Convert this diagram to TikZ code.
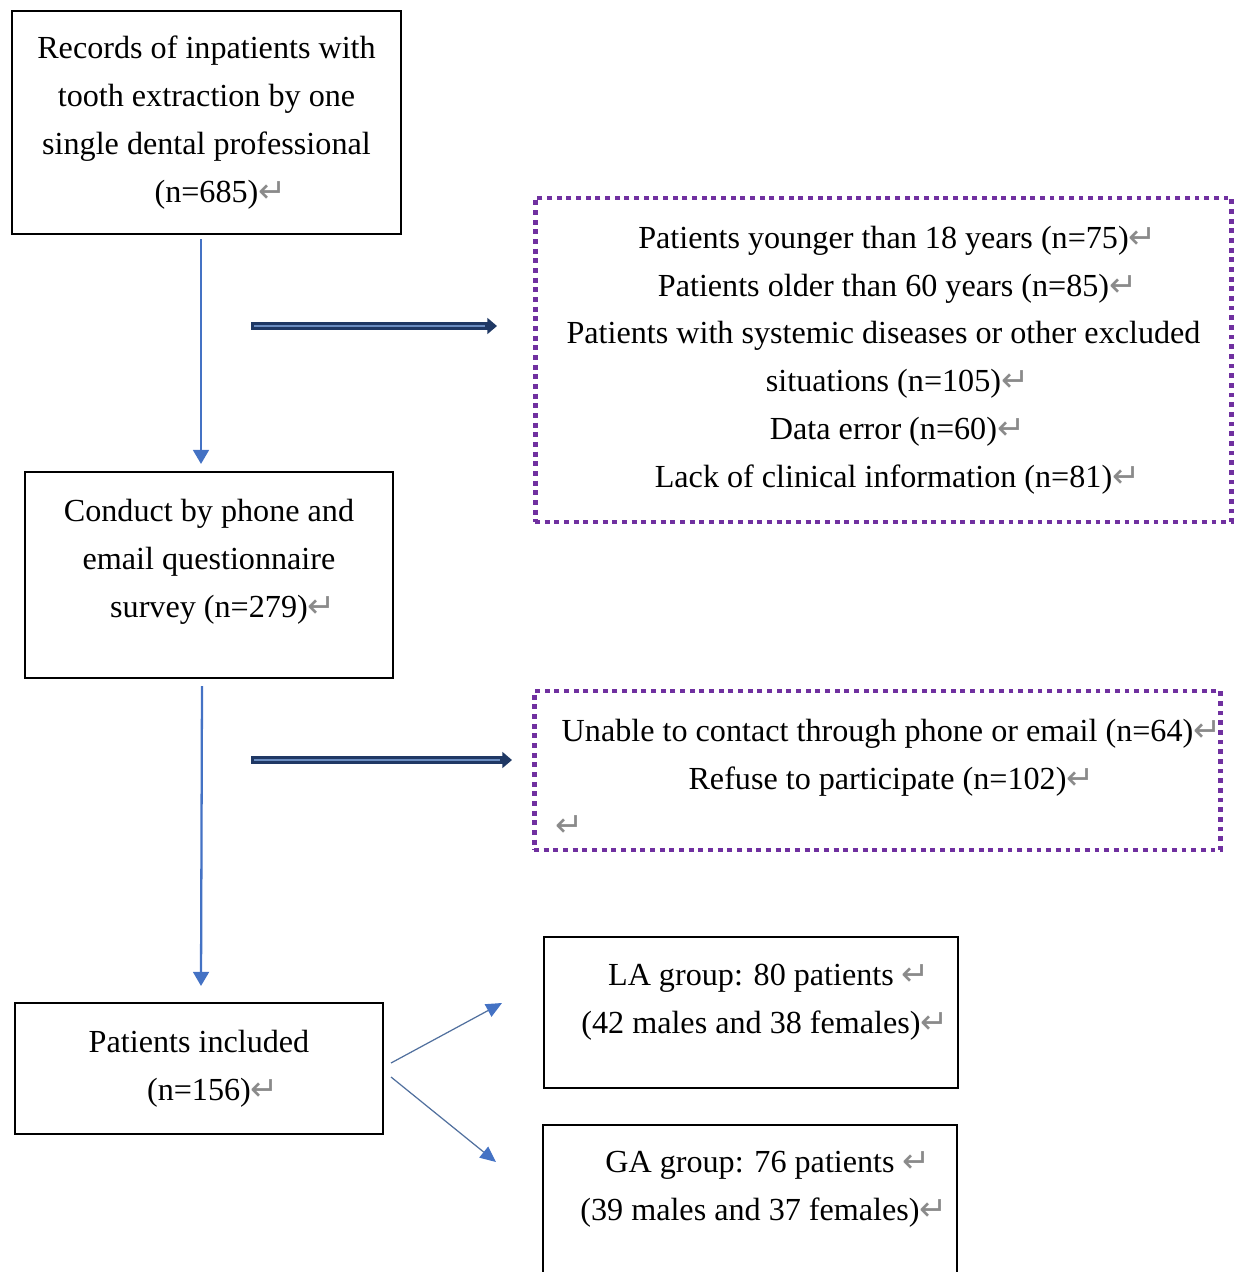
\documentclass[tikz,border=0pt]{standalone}
\usepackage{fontspec}
\setmainfont{Liberation Serif}
\newfontfamily\symfont{DejaVu Sans}
\usetikzlibrary{arrows.meta,calc,positioning}
\definecolor{wordblue}{HTML}{4472C4}
\definecolor{navyarrow}{HTML}{1F3864}
\definecolor{innerblue}{HTML}{6A8CC0}
\definecolor{exclpurple}{HTML}{7030A0}
\definecolor{sidegray}{HTML}{51709E}
\definecolor{markgray}{HTML}{8A8A8A}
\newcommand\pmark{\rlap{\color{markgray}\symfont\fontsize{19}{19}\selectfont ↵}}

\begin{document}
\begin{tikzpicture}[x=0.02cm,y=-0.02cm,
  font=\fontsize{18.3}{27.2}\selectfont,
  box/.style={draw,line width=1.2pt,align=center,inner sep=0pt},
  exclbox/.style={draw=exclpurple,line width=2.8pt,dash pattern=on 2.8pt off 2.7pt,align=center,inner sep=0pt},
  flow/.style={wordblue,line width=1.3pt,-{Triangle[length=8pt,width=9pt]}},
  side/.style={sidegray,line width=0.7pt,-{Triangle[length=9pt,width=8pt,color=wordblue]}},
  outarrow/.style={navyarrow,line width=4.2pt,-{Triangle[length=5.5pt,width=9pt]}},
  inarrow/.style={innerblue,line width=0.8pt}]
  \useasboundingbox (0,0) rectangle (1234,1272);
  % main flow
  \node[box,minimum width=7.78cm,minimum height=4.46cm] (records) at (206.5,122.5)
    {Records of inpatients with\\tooth extraction by one\\single dental professional\\(n=685)\pmark};
  \node[box,minimum width=7.36cm,minimum height=4.12cm] (survey) at (209,575)
    {Conduct by phone and\\email questionnaire\\survey (n=279)\pmark\\[-8pt]\mbox{}};
  \node[box,minimum width=7.36cm,minimum height=2.62cm] (included) at (199,1068.5)
    {Patients included\\(n=156)\pmark};
  % exclusions
  \node[exclbox,minimum width=13.94cm,minimum height=6.48cm] (excluded) at (883.5,360)
    {Patients younger than 18 years (n=75)\pmark\\Patients older than 60 years (n=85)\pmark\\
     Patients with systemic diseases or other excluded\\situations (n=105)\pmark\\
     Data error (n=60)\pmark\\Lack of clinical information (n=81)\pmark};
  \node[exclbox,minimum width=13.74cm,minimum height=3.18cm] (refused) at (877.5,770.5)
    {\mbox{}\\[-6pt]Unable to contact through phone or email (n=64)\pmark\\Refuse to participate (n=102)\pmark\\
     \makebox[12.9cm][l]{\pmark}};
  % groups
  \node[box,minimum width=8.28cm,minimum height=3.02cm] (lagroup) at (751,1012.5)
    {LA group: 80 patients\rlap{\ \pmark}\\(42 males and 38 females)\pmark\\[-12pt]\mbox{}};
  \node[box,minimum width=8.28cm,minimum height=3.10cm] (gagroup) at (750,1202.5)
    {GA group: 76 patients\rlap{\ \pmark}\\(39 males and 37 females)\pmark\\[-8.5pt]\mbox{}};

  \draw[flow] ($(records.south)+(-5.5,4)$) -- ($(survey.north)+(-8,-7)$);
  \draw[flow] ($(survey.south)+(-7,7)$) -- ($(included.north)+(2,-16)$);

  \coordinate (gap1s) at (251,326);
  \coordinate (gap1e) at (497,326);
  \coordinate (gap2s) at (251,760);
  \coordinate (gap2e) at (512,760);
  \draw[outarrow] (gap1s) -- (gap1e);
  \draw[inarrow] ($(gap1s)+(3,0)$) -- ($(gap1e)+(-12,0)$);
  \draw[outarrow] (gap2s) -- (gap2e);
  \draw[inarrow] ($(gap2s)+(3,0)$) -- ($(gap2e)+(-12,0)$);

  \draw[side] ($(included.east)+(7,-5.5)$) -- ($(lagroup.west)+(-41,-9.5)$);
  \draw[side] ($(included.east)+(7,8.5)$) -- ($(gagroup.west)+(-46,-40.5)$);
\end{tikzpicture}
\end{document}
